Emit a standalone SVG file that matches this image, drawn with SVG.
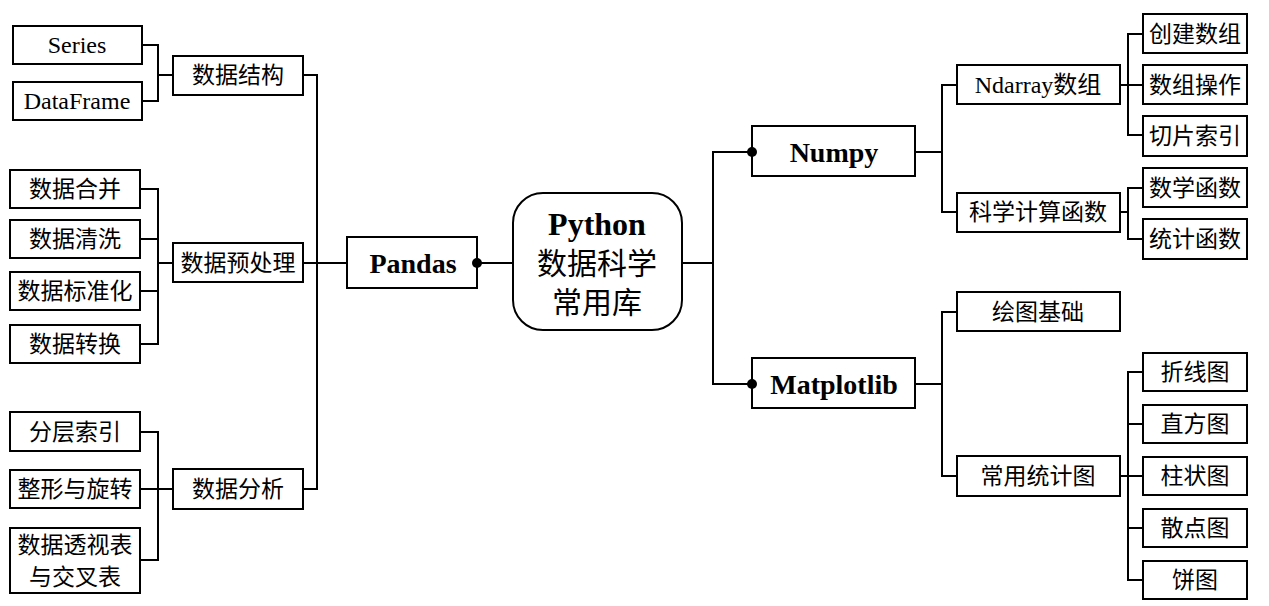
<svg xmlns="http://www.w3.org/2000/svg" width="1269" height="606" viewBox="0 0 1269 606">
<style>
rect{fill:#fff;stroke:#000;stroke-width:2}
text{font-family:"Liberation Serif","Noto Sans CJK SC",serif;font-size:23px;fill:#000;text-anchor:middle;dominant-baseline:central}
.l{font-size:24px}
.b{font-weight:bold;font-size:28px}
.c{font-size:30px}
.conn path{fill:none;stroke:#000;stroke-width:2}
.conn circle{fill:#000}
</style>
<rect x="0" y="0" width="1269" height="606" style="fill:#fff;stroke:none"/>
<g id="root"><rect x="513" y="193" width="169" height="137" rx="30"/><text x="597" y="224" class="c" style="font-weight:bold;font-size:32px">Python</text><text x="597" y="263" class="c">数据科学</text><text x="597" y="302" class="c">常用库</text></g>
<g id="pandas"><rect x="347" y="237" width="130" height="51"/><text x="413" y="263" class="b">Pandas</text></g>
<g id="sjjg"><rect x="173" y="56" width="130" height="39"/><text x="238" y="75">数据结构</text></g>
<g id="series"><rect x="13" y="26" width="129" height="38"/><text x="77" y="45" class="l">Series</text></g>
<g id="dataframe"><rect x="13" y="82" width="129" height="38"/><text x="77" y="101" class="l">DataFrame</text></g>
<g id="sjycl"><rect x="173" y="243" width="130" height="39"/><text x="238" y="263">数据预处理</text></g>
<g id="sjhb"><rect x="10" y="170" width="130" height="38"/><text x="75" y="189">数据合并</text></g>
<g id="sjqx"><rect x="10" y="220" width="130" height="38"/><text x="75" y="239">数据清洗</text></g>
<g id="sjbzh"><rect x="10" y="272" width="130" height="38"/><text x="75" y="291">数据标准化</text></g>
<g id="sjzh"><rect x="10" y="325" width="130" height="38"/><text x="75" y="344">数据转换</text></g>
<g id="sjfx"><rect x="173" y="469" width="130" height="40"/><text x="238" y="489">数据分析</text></g>
<g id="fcsy"><rect x="10" y="412" width="130" height="39"/><text x="75" y="432">分层索引</text></g>
<g id="zxyxz"><rect x="10" y="470" width="130" height="38"/><text x="75" y="489">整形与旋转</text></g>
<g id="sjtsb"><rect x="10" y="528" width="130" height="65"/><text x="75" y="545">数据透视表</text><text x="75" y="577">与交叉表</text></g>
<g id="numpy"><rect x="752" y="126" width="163" height="50"/><text x="834" y="152" class="b">Numpy</text></g>
<g id="ndarray"><rect x="957" y="65" width="163" height="39"/><text x="1038" y="85" class="l">Ndarray数组</text></g>
<g id="kxjshs"><rect x="957" y="193" width="163" height="39"/><text x="1038" y="212">科学计算函数</text></g>
<g id="cjsz"><rect x="1143" y="14" width="104" height="39"/><text x="1195" y="34">创建数组</text></g>
<g id="szcz"><rect x="1143" y="65" width="104" height="39"/><text x="1195" y="85">数组操作</text></g>
<g id="qpsy"><rect x="1143" y="116" width="104" height="40"/><text x="1195" y="136">切片索引</text></g>
<g id="sxhs"><rect x="1143" y="168" width="104" height="39"/><text x="1195" y="188">数学函数</text></g>
<g id="tjhs"><rect x="1143" y="219" width="104" height="40"/><text x="1195" y="239">统计函数</text></g>
<g id="matplotlib"><rect x="752" y="358" width="163" height="50"/><text x="834" y="384" class="b">Matplotlib</text></g>
<g id="htjc"><rect x="957" y="292" width="163" height="39"/><text x="1038" y="312">绘图基础</text></g>
<g id="cytjt"><rect x="957" y="456" width="163" height="40"/><text x="1038" y="476">常用统计图</text></g>
<g id="zxt"><rect x="1143" y="353" width="104" height="38"/><text x="1195" y="372">折线图</text></g>
<g id="zft"><rect x="1143" y="405" width="104" height="38"/><text x="1195" y="424">直方图</text></g>
<g id="zzt"><rect x="1143" y="457" width="104" height="38"/><text x="1195" y="476">柱状图</text></g>
<g id="sdt"><rect x="1143" y="509" width="104" height="38"/><text x="1195" y="528">散点图</text></g>
<g id="bt"><rect x="1143" y="561" width="104" height="38"/><text x="1195" y="580">饼图</text></g>
<g class="conn" id="connectors">
<path d="M142,45 H158 V101 H142 M158,75 H173"/>
<path d="M303,75 H317 V489 H303 M303,263 H347"/>
<path d="M140,189 H158 V344 H140 M140,239 H158 M140,291 H158 M158,263 H173"/>
<path d="M140,432 H158 V560 H140 M140,489 H173"/>
<path d="M477,263 H513"/>
<path d="M682,263 H713 M752,152 H713 V384 H752"/>
<path d="M915,152 H942 M957,85 H942 V212 H957"/>
<path d="M1120,85 H1143 M1143,34 H1128 V135 H1143"/>
<path d="M1120,212 H1128 M1143,188 H1128 V239 H1143"/>
<path d="M915,384 H942 M957,312 H942 V476 H957"/>
<path d="M1120,476 H1143 M1143,372 H1128 V580 H1143 M1128,424 H1143 M1128,528 H1143"/>
<circle cx="477" cy="263" r="5"/>
<circle cx="752" cy="152" r="5"/>
<circle cx="752" cy="384" r="5"/>
</g>
</svg>
